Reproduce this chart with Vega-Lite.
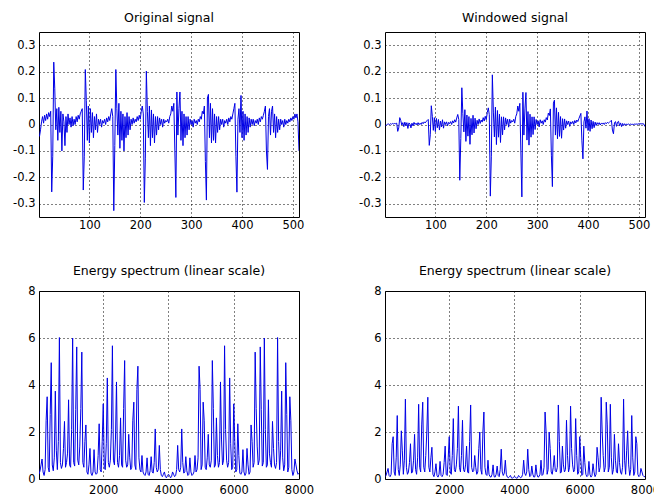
{
"$schema": "https://vega.github.io/schema/vega-lite/v6.json",
"background": "white",
"padding": {"left": 12, "top": 11, "right": 5, "bottom": 5},
"columns": 2,
"spacing": {"row": 74, "column": 86},
"bounds": "flush",
"datasets": {
"sig": [
{"n":2,"o":-0.045,"w":-0.004},{"n":4,"o":-0.02,"w":-0.002},{"n":6,"o":0.01,"w":0.001},{"n":8,"o":0.03,"w":0.002},{"n":10,"o":0.005,"w":0},{"n":12,"o":0.035,"w":0.003},{"n":14,"o":0.015,"w":0.001},{"n":16,"o":0.04,"w":0.004},{"n":18,"o":0.02,"w":0.002},{"n":20,"o":0.045,"w":0.004},{"n":22,"o":0.03,"w":0.003},{"n":24,"o":0.05,"w":0.005},{"n":26,"o":-0.255,"w":-0.026},{"n":28,"o":-0.12,"w":-0.013},{"n":30,"o":0.236,"w":0.026},{"n":32,"o":0.135,"w":0.015},{"n":34,"o":-0.02,"w":-0.002},{"n":36,"o":0.06,"w":0.007},{"n":38,"o":-0.06,"w":-0.008},{"n":40,"o":0.065,"w":0.009},{"n":42,"o":-0.03,"w":-0.004},{"n":44,"o":0.05,"w":0.007},{"n":46,"o":-0.1,"w":-0.015},{"n":48,"o":0.04,"w":0.006},{"n":50,"o":0.01,"w":0.002},{"n":52,"o":-0.08,"w":-0.013},{"n":54,"o":0.03,"w":0.005},{"n":56,"o":-0.03,"w":-0.005},{"n":58,"o":0.04,"w":0.008},{"n":60,"o":0,"w":0},{"n":62,"o":0.025,"w":0.005},{"n":64,"o":-0.01,"w":-0.002},{"n":66,"o":0.03,"w":0.007},{"n":68,"o":-0.005,"w":-0.001},{"n":70,"o":0.02,"w":0.005},{"n":72,"o":0,"w":0},{"n":74,"o":0.03,"w":0.008},{"n":76,"o":0.01,"w":0.003},{"n":78,"o":0.035,"w":0.01},{"n":80,"o":0.02,"w":0.006},{"n":82,"o":0.04,"w":0.012},{"n":84,"o":0.05,"w":0.015},{"n":86,"o":0.06,"w":0.019},{"n":88,"o":-0.248,"w":-0.079},{"n":90,"o":-0.12,"w":-0.039},{"n":92,"o":0.208,"w":0.071},{"n":94,"o":0.09,"w":0.031},{"n":96,"o":-0.06,"w":-0.022},{"n":98,"o":0.07,"w":0.026},{"n":100,"o":-0.07,"w":-0.027},
{"n":102,"o":0.06,"w":0.023},{"n":104,"o":-0.03,"w":-0.012},{"n":106,"o":0.045,"w":0.019},{"n":108,"o":-0.05,"w":-0.021},{"n":110,"o":0.03,"w":0.013},{"n":112,"o":-0.02,"w":-0.009},{"n":114,"o":0.04,"w":0.018},{"n":116,"o":-0.03,"w":-0.014},{"n":118,"o":0.02,"w":0.01},{"n":120,"o":0,"w":0},{"n":122,"o":0.02,"w":0.01},{"n":124,"o":-0.01,"w":-0.005},{"n":126,"o":0.015,"w":0.008},{"n":128,"o":0.005,"w":0.003},{"n":130,"o":0.02,"w":0.011},{"n":132,"o":0,"w":0},{"n":134,"o":0.025,"w":0.014},{"n":136,"o":0.01,"w":0.006},{"n":138,"o":0.03,"w":0.018},{"n":140,"o":0.015,"w":0.009},{"n":142,"o":0.04,"w":0.025},{"n":144,"o":0.06,"w":0.038},{"n":146,"o":0.03,"w":0.019},{"n":148,"o":-0.326,"w":-0.211},{"n":150,"o":-0.08,"w":-0.053},{"n":152,"o":0.208,"w":0.139},{"n":154,"o":0.06,"w":0.041},{"n":156,"o":-0.04,"w":-0.028},{"n":158,"o":0.08,"w":0.056},{"n":160,"o":-0.09,"w":-0.064},{"n":162,"o":0.05,"w":0.036},{"n":164,"o":-0.06,"w":-0.044},{"n":166,"o":0.04,"w":0.03},{"n":168,"o":-0.1,"w":-0.075},{"n":170,"o":0.03,"w":0.023},{"n":172,"o":-0.05,"w":-0.039},{"n":174,"o":0.045,"w":0.035},{"n":176,"o":-0.04,"w":-0.032},{"n":178,"o":0.03,"w":0.024},{"n":180,"o":-0.02,"w":-0.016},{"n":182,"o":0.02,"w":0.016},{"n":184,"o":0,"w":0},{"n":186,"o":0.025,"w":0.021},{"n":188,"o":0.005,"w":0.004},{"n":190,"o":0.02,"w":0.017},{"n":192,"o":0.01,"w":0.009},{"n":194,"o":0.03,"w":0.026},{"n":196,"o":0.015,"w":0.013},{"n":198,"o":0.035,"w":0.031},{"n":200,"o":0.02,"w":0.018},
{"n":202,"o":0.05,"w":0.045},{"n":204,"o":0.07,"w":0.063},{"n":206,"o":0.04,"w":0.037},{"n":208,"o":-0.295,"w":-0.271},{"n":210,"o":-0.13,"w":-0.12},{"n":212,"o":0.202,"w":0.188},{"n":214,"o":0.05,"w":0.047},{"n":216,"o":-0.05,"w":-0.047},{"n":218,"o":0.07,"w":0.066},{"n":220,"o":-0.08,"w":-0.076},{"n":222,"o":0.055,"w":0.053},{"n":224,"o":-0.05,"w":-0.048},{"n":226,"o":0.04,"w":0.039},{"n":228,"o":-0.07,"w":-0.068},{"n":230,"o":0.03,"w":0.029},{"n":232,"o":-0.04,"w":-0.039},{"n":234,"o":0.03,"w":0.029},{"n":236,"o":-0.02,"w":-0.02},{"n":238,"o":0.025,"w":0.025},{"n":240,"o":0,"w":0},{"n":242,"o":0.02,"w":0.02},{"n":244,"o":-0.01,"w":-0.01},{"n":246,"o":0.02,"w":0.02},{"n":248,"o":0.005,"w":0.005},{"n":250,"o":0.015,"w":0.015},{"n":252,"o":0.01,"w":0.01},{"n":254,"o":0.02,"w":0.02},{"n":256,"o":0.005,"w":0.005},{"n":258,"o":0.03,"w":0.03},{"n":260,"o":0.04,"w":0.04},{"n":262,"o":0.07,"w":0.07},{"n":264,"o":0.05,"w":0.05},{"n":266,"o":0.08,"w":0.08},{"n":268,"o":-0.1,"w":-0.1},{"n":270,"o":-0.276,"w":-0.274},{"n":272,"o":0.123,"w":0.122},{"n":274,"o":-0.04,"w":-0.04},{"n":276,"o":0.06,"w":0.059},{"n":278,"o":0.123,"w":0.121},{"n":280,"o":-0.06,"w":-0.059},{"n":282,"o":0.05,"w":0.049},{"n":284,"o":-0.08,"w":-0.078},{"n":286,"o":0.04,"w":0.039},{"n":288,"o":-0.05,"w":-0.048},{"n":290,"o":0.03,"w":0.029},{"n":292,"o":-0.04,"w":-0.038},{"n":294,"o":0.03,"w":0.029},{"n":296,"o":-0.02,"w":-0.019},{"n":298,"o":0.02,"w":0.019},{"n":300,"o":0,"w":0},
{"n":302,"o":0.015,"w":0.014},{"n":304,"o":-0.01,"w":-0.009},{"n":306,"o":0.02,"w":0.018},{"n":308,"o":0.005,"w":0.005},{"n":310,"o":0.015,"w":0.014},{"n":312,"o":0,"w":0},{"n":314,"o":0.02,"w":0.018},{"n":316,"o":0.01,"w":0.009},{"n":318,"o":0.03,"w":0.026},{"n":320,"o":0.02,"w":0.017},{"n":322,"o":0.05,"w":0.043},{"n":324,"o":0.04,"w":0.034},{"n":326,"o":0.07,"w":0.059},{"n":328,"o":-0.14,"w":-0.116},{"n":330,"o":-0.286,"w":-0.235},{"n":332,"o":0.1,"w":0.081},{"n":334,"o":0.114,"w":0.092},{"n":336,"o":-0.05,"w":-0.04},{"n":338,"o":0.08,"w":0.063},{"n":340,"o":-0.07,"w":-0.054},{"n":342,"o":0.06,"w":0.046},{"n":344,"o":-0.06,"w":-0.045},{"n":346,"o":0.04,"w":0.03},{"n":348,"o":-0.07,"w":-0.052},{"n":350,"o":0.03,"w":0.022},{"n":352,"o":-0.03,"w":-0.021},{"n":354,"o":0.03,"w":0.021},{"n":356,"o":-0.02,"w":-0.014},{"n":358,"o":0.02,"w":0.014},{"n":360,"o":0,"w":0},{"n":362,"o":0.02,"w":0.013},{"n":364,"o":-0.01,"w":-0.007},{"n":366,"o":0.015,"w":0.01},{"n":368,"o":0.005,"w":0.003},{"n":370,"o":0.02,"w":0.012},{"n":372,"o":0,"w":0},{"n":374,"o":0.025,"w":0.015},{"n":376,"o":0.01,"w":0.006},{"n":378,"o":0.03,"w":0.017},{"n":380,"o":0.02,"w":0.011},{"n":382,"o":0.04,"w":0.022},{"n":384,"o":0.06,"w":0.032},{"n":386,"o":0.08,"w":0.042},{"n":388,"o":-0.12,"w":-0.062},{"n":390,"o":-0.256,"w":-0.13},{"n":392,"o":0.02,"w":0.01},{"n":394,"o":0.06,"w":0.029},{"n":396,"o":-0.03,"w":-0.014},{"n":398,"o":0.11,"w":0.051},{"n":400,"o":-0.05,"w":-0.023},
{"n":402,"o":0.05,"w":0.022},{"n":404,"o":-0.06,"w":-0.026},{"n":406,"o":0.04,"w":0.017},{"n":408,"o":-0.04,"w":-0.016},{"n":410,"o":0.03,"w":0.012},{"n":412,"o":-0.03,"w":-0.012},{"n":414,"o":0.025,"w":0.009},{"n":416,"o":-0.01,"w":-0.004},{"n":418,"o":0.02,"w":0.007},{"n":420,"o":0,"w":0},{"n":422,"o":0.02,"w":0.007},{"n":424,"o":-0.005,"w":-0.002},{"n":426,"o":0.015,"w":0.005},{"n":428,"o":0.005,"w":0.002},{"n":430,"o":0.02,"w":0.006},{"n":432,"o":0,"w":0},{"n":434,"o":0.025,"w":0.007},{"n":436,"o":0.01,"w":0.003},{"n":438,"o":0.03,"w":0.008},{"n":440,"o":0.02,"w":0.005},{"n":442,"o":0.035,"w":0.008},{"n":444,"o":0.05,"w":0.012},{"n":446,"o":0.07,"w":0.016},{"n":448,"o":-0.1,"w":-0.021},{"n":450,"o":-0.17,"w":-0.035},{"n":452,"o":0.03,"w":0.006},{"n":454,"o":0.06,"w":0.011},{"n":456,"o":-0.04,"w":-0.007},{"n":458,"o":0.05,"w":0.009},{"n":460,"o":0.07,"w":0.012},{"n":462,"o":-0.03,"w":-0.005},{"n":464,"o":0.04,"w":0.006},{"n":466,"o":-0.05,"w":-0.008},{"n":468,"o":0.03,"w":0.004},{"n":470,"o":-0.03,"w":-0.004},{"n":472,"o":0.02,"w":0.003},{"n":474,"o":-0.02,"w":-0.003},{"n":476,"o":0.02,"w":0.002},{"n":478,"o":0,"w":0},{"n":480,"o":0.015,"w":0.002},{"n":482,"o":-0.01,"w":-0.001},{"n":484,"o":0.02,"w":0.002},{"n":486,"o":0,"w":0},{"n":488,"o":0.015,"w":0.001},{"n":490,"o":0.005,"w":0},{"n":492,"o":0.02,"w":0.002},{"n":494,"o":0.01,"w":0.001},{"n":496,"o":0.025,"w":0.002},{"n":498,"o":0.015,"w":0.001},{"n":500,"o":0.03,"w":0.003},{"n":502,"o":0.02,"w":0.002},{"n":504,"o":0.04,"w":0.003},{"n":506,"o":0.025,"w":0.002},{"n":508,"o":0.04,"w":0.003},{"n":510,"o":0.01,"w":0.001},{"n":512,"o":-0.1,"w":-0.008}
],
"spec": [
{"f":31.25,"a":0.2,"b":0.1},{"f":62.5,"a":0.35,"b":0.15},{"f":93.75,"a":0.6,"b":0.3},{"f":125,"a":0.85,"b":0.45},{"f":156.25,"a":0.3,"b":0.15},{"f":187.5,"a":0.15,"b":0.1},{"f":218.75,"a":0.4,"b":0.2},{"f":250,"a":2.5,"b":1.5},{"f":281.25,"a":3.5,"b":1.8},{"f":312.5,"a":0.5,"b":0.3},{"f":343.75,"a":0.3,"b":0.15},{"f":375,"a":2.75,"b":0.9},{"f":406.25,"a":4.95,"b":2.7},{"f":437.5,"a":0.6,"b":0.4},{"f":468.75,"a":0.35,"b":0.15},{"f":500,"a":0.9,"b":0.6},{"f":531.25,"a":3.74,"b":2.05},{"f":562.5,"a":1.2,"b":1.2},{"f":593.75,"a":0.4,"b":0.2},{"f":625,"a":1.6,"b":0.8},{"f":656.25,"a":6.02,"b":3.4},{"f":687.5,"a":0.7,"b":0.5},{"f":718.75,"a":0.45,"b":0.2},{"f":750,"a":0.6,"b":0.3},{"f":781.25,"a":1.3,"b":0.7},{"f":812.5,"a":2.45,"b":1.5},{"f":843.75,"a":0.5,"b":0.25},{"f":875,"a":0.7,"b":0.3},{"f":906.25,"a":1.1,"b":0.8},{"f":937.5,"a":3.37,"b":1.9},{"f":968.75,"a":0.6,"b":0.4},{"f":1000,"a":0.5,"b":0.2},
{"f":1031.25,"a":2.1,"b":0.9},{"f":1062.5,"a":6.0,"b":3.18},{"f":1093.75,"a":0.7,"b":0.5},{"f":1125,"a":0.55,"b":0.3},{"f":1156.25,"a":2.95,"b":2.3},{"f":1187.5,"a":5.62,"b":3.27},{"f":1218.75,"a":0.8,"b":0.5},{"f":1250,"a":0.6,"b":0.3},{"f":1281.25,"a":1.4,"b":1.0},{"f":1312.5,"a":3.0,"b":2.0},{"f":1343.75,"a":5.4,"b":3.48},{"f":1375,"a":0.7,"b":0.5},{"f":1406.25,"a":0.5,"b":0.3},{"f":1437.5,"a":1.6,"b":0.9},{"f":1468.75,"a":2.3,"b":1.35},{"f":1500,"a":0.3,"b":0.2},{"f":1531.25,"a":0.2,"b":0.1},{"f":1562.5,"a":0.6,"b":0.3},{"f":1593.75,"a":1.3,"b":0.65},{"f":1625,"a":0.25,"b":0.15},{"f":1656.25,"a":0.15,"b":0.08},{"f":1687.5,"a":0.3,"b":0.2},{"f":1718.75,"a":1.25,"b":0.75},{"f":1750,"a":0.3,"b":0.15},{"f":1781.25,"a":0.2,"b":0.1},{"f":1812.5,"a":0.25,"b":0.2},{"f":1843.75,"a":1.0,"b":0.7},{"f":1875,"a":2.35,"b":1.4},{"f":1906.25,"a":0.4,"b":0.2},{"f":1937.5,"a":0.3,"b":0.15},{"f":1968.75,"a":1.6,"b":0.9},{"f":2000,"a":3.2,"b":1.8},
{"f":2031.25,"a":0.5,"b":0.3},{"f":2062.5,"a":0.4,"b":0.2},{"f":2093.75,"a":1.5,"b":1.0},{"f":2125,"a":4.3,"b":2.57},{"f":2156.25,"a":0.7,"b":0.4},{"f":2187.5,"a":0.5,"b":0.3},{"f":2218.75,"a":0.8,"b":0.6},{"f":2250,"a":2.1,"b":1.3},{"f":2281.25,"a":5.67,"b":3.1},{"f":2312.5,"a":0.8,"b":0.5},{"f":2343.75,"a":0.6,"b":0.3},{"f":2375,"a":1.7,"b":1.0},{"f":2406.25,"a":4.13,"b":2.5},{"f":2437.5,"a":0.7,"b":0.4},{"f":2468.75,"a":0.5,"b":0.3},{"f":2500,"a":1.0,"b":0.6},{"f":2531.25,"a":2.6,"b":1.4},{"f":2562.5,"a":0.6,"b":0.3},{"f":2593.75,"a":0.5,"b":0.25},{"f":2625,"a":3.0,"b":1.6},{"f":2656.25,"a":5.04,"b":3.15},{"f":2687.5,"a":0.8,"b":0.5},{"f":2718.75,"a":0.5,"b":0.3},{"f":2750,"a":0.6,"b":0.35},{"f":2781.25,"a":1.9,"b":1.0},{"f":2812.5,"a":0.9,"b":0.5},{"f":2843.75,"a":0.4,"b":0.2},{"f":2875,"a":0.5,"b":0.3},{"f":2906.25,"a":2.5,"b":1.3},{"f":2937.5,"a":3.27,"b":2.0},{"f":2968.75,"a":0.6,"b":0.4},{"f":3000,"a":0.4,"b":0.2},
{"f":3031.25,"a":3.8,"b":2.0},{"f":3062.5,"a":4.8,"b":2.85},{"f":3093.75,"a":0.9,"b":0.5},{"f":3125,"a":0.4,"b":0.2},{"f":3156.25,"a":0.3,"b":0.15},{"f":3187.5,"a":1.0,"b":0.8},{"f":3218.75,"a":0.3,"b":0.2},{"f":3250,"a":0.2,"b":0.1},{"f":3281.25,"a":0.15,"b":0.08},{"f":3312.5,"a":0.3,"b":0.2},{"f":3343.75,"a":0.9,"b":0.6},{"f":3375,"a":0.2,"b":0.1},{"f":3406.25,"a":0.15,"b":0.08},{"f":3437.5,"a":0.35,"b":0.2},{"f":3468.75,"a":0.95,"b":0.55},{"f":3500,"a":0.3,"b":0.15},{"f":3531.25,"a":0.25,"b":0.1},{"f":3562.5,"a":0.7,"b":0.4},{"f":3593.75,"a":2.13,"b":1.27},{"f":3625,"a":0.5,"b":0.3},{"f":3656.25,"a":0.3,"b":0.15},{"f":3687.5,"a":0.4,"b":0.25},{"f":3718.75,"a":1.43,"b":0.8},{"f":3750,"a":0.4,"b":0.2},{"f":3781.25,"a":0.15,"b":0.08},{"f":3812.5,"a":0.1,"b":0.05},{"f":3843.75,"a":0.2,"b":0.1},{"f":3875,"a":0.3,"b":0.15},{"f":3906.25,"a":0.1,"b":0.05},{"f":3937.5,"a":0.05,"b":0.03},{"f":3968.75,"a":0.15,"b":0.08},{"f":4000,"a":0.2,"b":0.1},
{"f":4031.25,"a":0.15,"b":0.08},{"f":4062.5,"a":0.05,"b":0.03},{"f":4093.75,"a":0.1,"b":0.05},{"f":4125,"a":0.3,"b":0.15},{"f":4156.25,"a":0.2,"b":0.1},{"f":4187.5,"a":0.1,"b":0.05},{"f":4218.75,"a":0.15,"b":0.08},{"f":4250,"a":0.4,"b":0.2},{"f":4281.25,"a":1.43,"b":0.8},{"f":4312.5,"a":0.4,"b":0.25},{"f":4343.75,"a":0.3,"b":0.15},{"f":4375,"a":0.5,"b":0.3},{"f":4406.25,"a":2.13,"b":1.27},{"f":4437.5,"a":0.7,"b":0.4},{"f":4468.75,"a":0.25,"b":0.1},{"f":4500,"a":0.3,"b":0.15},{"f":4531.25,"a":0.95,"b":0.55},{"f":4562.5,"a":0.35,"b":0.2},{"f":4593.75,"a":0.15,"b":0.08},{"f":4625,"a":0.2,"b":0.1},{"f":4656.25,"a":0.9,"b":0.6},{"f":4687.5,"a":0.3,"b":0.2},{"f":4718.75,"a":0.15,"b":0.08},{"f":4750,"a":0.2,"b":0.1},{"f":4781.25,"a":0.3,"b":0.2},{"f":4812.5,"a":1.0,"b":0.8},{"f":4843.75,"a":0.3,"b":0.15},{"f":4875,"a":0.4,"b":0.2},{"f":4906.25,"a":0.9,"b":0.5},{"f":4937.5,"a":4.8,"b":2.85},{"f":4968.75,"a":3.8,"b":2.0},{"f":5000,"a":0.4,"b":0.2},
{"f":5031.25,"a":0.6,"b":0.4},{"f":5062.5,"a":3.27,"b":2.0},{"f":5093.75,"a":2.5,"b":1.3},{"f":5125,"a":0.5,"b":0.3},{"f":5156.25,"a":0.4,"b":0.2},{"f":5187.5,"a":0.9,"b":0.5},{"f":5218.75,"a":1.9,"b":1.0},{"f":5250,"a":0.6,"b":0.35},{"f":5281.25,"a":0.5,"b":0.3},{"f":5312.5,"a":0.8,"b":0.5},{"f":5343.75,"a":5.04,"b":3.15},{"f":5375,"a":3.0,"b":1.6},{"f":5406.25,"a":0.5,"b":0.25},{"f":5437.5,"a":0.6,"b":0.3},{"f":5468.75,"a":2.6,"b":1.4},{"f":5500,"a":1.0,"b":0.6},{"f":5531.25,"a":0.5,"b":0.3},{"f":5562.5,"a":0.7,"b":0.4},{"f":5593.75,"a":4.13,"b":2.5},{"f":5625,"a":1.7,"b":1.0},{"f":5656.25,"a":0.6,"b":0.3},{"f":5687.5,"a":0.8,"b":0.5},{"f":5718.75,"a":5.67,"b":3.1},{"f":5750,"a":2.1,"b":1.3},{"f":5781.25,"a":0.8,"b":0.6},{"f":5812.5,"a":0.5,"b":0.3},{"f":5843.75,"a":0.7,"b":0.4},{"f":5875,"a":4.3,"b":2.57},{"f":5906.25,"a":1.5,"b":1.0},{"f":5937.5,"a":0.4,"b":0.2},{"f":5968.75,"a":0.5,"b":0.3},{"f":6000,"a":3.2,"b":1.8},
{"f":6031.25,"a":1.6,"b":0.9},{"f":6062.5,"a":0.3,"b":0.15},{"f":6093.75,"a":0.4,"b":0.2},{"f":6125,"a":2.35,"b":1.4},{"f":6156.25,"a":1.0,"b":0.7},{"f":6187.5,"a":0.25,"b":0.2},{"f":6218.75,"a":0.2,"b":0.1},{"f":6250,"a":0.3,"b":0.15},{"f":6281.25,"a":1.25,"b":0.75},{"f":6312.5,"a":0.3,"b":0.2},{"f":6343.75,"a":0.15,"b":0.08},{"f":6375,"a":0.25,"b":0.15},{"f":6406.25,"a":1.3,"b":0.65},{"f":6437.5,"a":0.6,"b":0.3},{"f":6468.75,"a":0.2,"b":0.1},{"f":6500,"a":0.3,"b":0.2},{"f":6531.25,"a":2.3,"b":1.35},{"f":6562.5,"a":1.6,"b":0.9},{"f":6593.75,"a":0.5,"b":0.3},{"f":6625,"a":0.7,"b":0.5},{"f":6656.25,"a":5.4,"b":3.48},{"f":6687.5,"a":3.0,"b":2.0},{"f":6718.75,"a":1.4,"b":1.0},{"f":6750,"a":0.6,"b":0.3},{"f":6781.25,"a":0.8,"b":0.5},{"f":6812.5,"a":5.62,"b":3.27},{"f":6843.75,"a":2.95,"b":2.3},{"f":6875,"a":0.55,"b":0.3},{"f":6906.25,"a":0.7,"b":0.5},{"f":6937.5,"a":6.0,"b":3.18},{"f":6968.75,"a":2.1,"b":0.9},{"f":7000,"a":0.5,"b":0.2},
{"f":7031.25,"a":0.6,"b":0.4},{"f":7062.5,"a":3.37,"b":1.9},{"f":7093.75,"a":1.1,"b":0.8},{"f":7125,"a":0.7,"b":0.3},{"f":7156.25,"a":0.5,"b":0.25},{"f":7187.5,"a":2.45,"b":1.5},{"f":7218.75,"a":1.3,"b":0.7},{"f":7250,"a":0.6,"b":0.3},{"f":7281.25,"a":0.45,"b":0.2},{"f":7312.5,"a":0.7,"b":0.5},{"f":7343.75,"a":6.02,"b":3.4},{"f":7375,"a":1.6,"b":0.8},{"f":7406.25,"a":0.4,"b":0.2},{"f":7437.5,"a":1.2,"b":1.2},{"f":7468.75,"a":3.74,"b":2.05},{"f":7500,"a":0.9,"b":0.6},{"f":7531.25,"a":0.35,"b":0.15},{"f":7562.5,"a":0.6,"b":0.4},{"f":7593.75,"a":4.95,"b":2.7},{"f":7625,"a":2.75,"b":0.9},{"f":7656.25,"a":0.3,"b":0.15},{"f":7687.5,"a":0.5,"b":0.3},{"f":7718.75,"a":3.5,"b":1.8},{"f":7750,"a":2.5,"b":1.5},{"f":7781.25,"a":0.4,"b":0.2},{"f":7812.5,"a":0.15,"b":0.1},{"f":7843.75,"a":0.3,"b":0.15},{"f":7875,"a":0.85,"b":0.45},{"f":7906.25,"a":0.6,"b":0.3},{"f":7937.5,"a":0.35,"b":0.15},{"f":7968.75,"a":0.2,"b":0.1},{"f":8000,"a":0.25,"b":0.1}
]
},
"concat": [
{
"title": "Original signal",
"width": 260, "height": 185,
"data": {"name": "sig"},
"mark": {"type": "line", "color": "#0000e6", "strokeWidth": 1, "clip": true},
"encoding": {
"x": {"field": "n", "type": "quantitative", "scale": {"domain": [1, 512], "nice": false, "zero": false}, "axis": {"title": null, "values": [100, 200, 300, 400, 500], "format": "d", "labelPadding": 2, "labelFlush": false}},
"y": {"field": "o", "type": "quantitative", "scale": {"domain": [-0.35, 0.35], "nice": false}, "axis": {"title": null, "values": [-0.3, -0.2, -0.1, 0, 0.1, 0.2, 0.3], "labelExpr": "'' + datum.value", "labelPadding": 4}}
}
},
{
"title": "Windowed signal",
"width": 260, "height": 185,
"data": {"name": "sig"},
"mark": {"type": "line", "color": "#0000e6", "strokeWidth": 1, "clip": true},
"encoding": {
"x": {"field": "n", "type": "quantitative", "scale": {"domain": [1, 512], "nice": false, "zero": false}, "axis": {"title": null, "values": [100, 200, 300, 400, 500], "format": "d", "labelPadding": 2, "labelFlush": false}},
"y": {"field": "w", "type": "quantitative", "scale": {"domain": [-0.35, 0.35], "nice": false}, "axis": {"title": null, "values": [-0.3, -0.2, -0.1, 0, 0.1, 0.2, 0.3], "labelExpr": "'' + datum.value", "labelPadding": 4}}
}
},
{
"title": "Energy spectrum (linear scale)",
"width": 260, "height": 188,
"data": {"name": "spec"},
"mark": {"type": "line", "color": "#0000e6", "strokeWidth": 1, "clip": true},
"encoding": {
"x": {"field": "f", "type": "quantitative", "scale": {"domain": [31.25, 8000], "nice": false, "zero": false}, "axis": {"title": null, "values": [2000, 4000, 6000, 8000], "format": "d", "labelPadding": 5, "labelFlush": false}},
"y": {"field": "a", "type": "quantitative", "scale": {"domain": [0, 8], "nice": false}, "axis": {"title": null, "values": [0, 2, 4, 6, 8], "format": "d", "labelPadding": 4}}
}
},
{
"title": "Energy spectrum (linear scale)",
"width": 260, "height": 188,
"data": {"name": "spec"},
"mark": {"type": "line", "color": "#0000e6", "strokeWidth": 1, "clip": true},
"encoding": {
"x": {"field": "f", "type": "quantitative", "scale": {"domain": [31.25, 8000], "nice": false, "zero": false}, "axis": {"title": null, "values": [2000, 4000, 6000, 8000], "format": "d", "labelPadding": 5, "labelFlush": false}},
"y": {"field": "b", "type": "quantitative", "scale": {"domain": [0, 8], "nice": false}, "axis": {"title": null, "values": [0, 2, 4, 6, 8], "format": "d", "labelPadding": 4}}
}
}
],
"config": {
"font": "DejaVu Sans",
"view": {"stroke": "black", "strokeWidth": 1},
"axis": {"domain": false, "ticks": false, "grid": true, "gridColor": "black", "gridDash": [1, 3], "gridOpacity": 1, "gridWidth": 1, "labelFont": "DejaVu Sans", "labelFontSize": 11.5, "labelColor": "black"},
"title": {"font": "DejaVu Sans", "fontSize": 12.5, "fontWeight": "normal", "color": "black", "offset": 8, "anchor": "middle"}
}
}
